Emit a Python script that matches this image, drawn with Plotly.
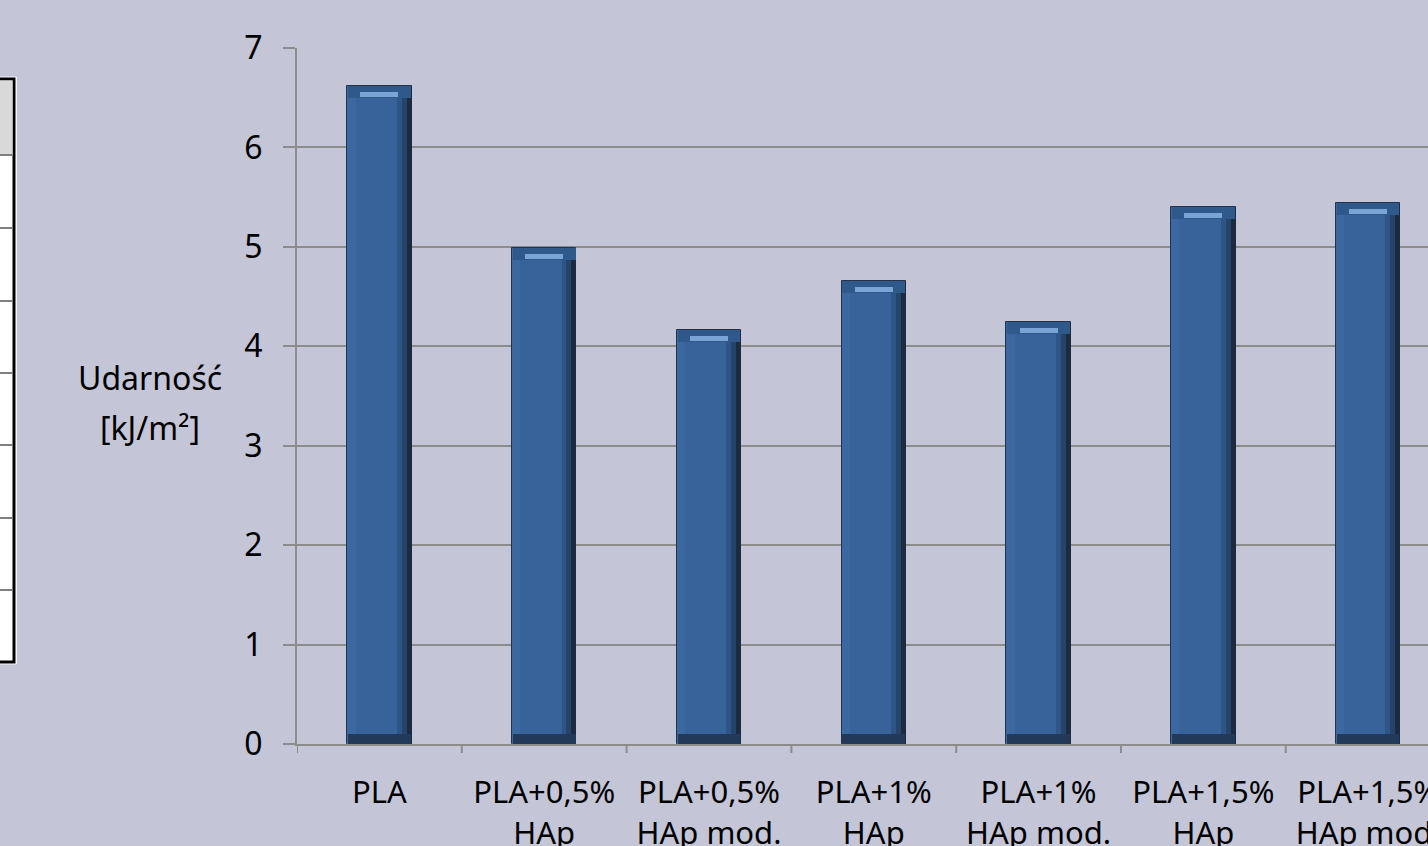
import plotly.graph_objects as go

categories = ["PLA<br> ", "PLA+0,5%<br>HAp", "PLA+0,5%<br>HAp mod.", "PLA+1%<br>HAp",
              "PLA+1%<br>HAp mod.", "PLA+1,5%<br>HAp", "PLA+1,5%<br>HAp mod."]
values = [6.62, 4.99, 4.16, 4.66, 4.24, 5.40, 5.44]
y_ticks = [0, 1, 2, 3, 4, 5, 6, 7]
y_title_lines = ["Udarność", "[kJ/m²]"]

W, H = 1428, 846
BG = "#C4C6D8"
xs = list(range(len(categories)))

fig = go.Figure()
BW = 0.39
# main bar body
fig.add_trace(go.Bar(x=xs, y=values, width=BW, marker=dict(color="#37639A", line=dict(color="#24324a", width=1))))
# left lighter strip
fig.add_trace(go.Bar(x=xs, y=values, width=0.05, offset=-BW / 2, marker=dict(color="#3C68A0", line=dict(width=0))))
# right darker gradient strips
fig.add_trace(go.Bar(x=xs, y=values, width=0.09, offset=BW / 2 - 0.09, marker=dict(color="#2E5585", line=dict(width=0))))
fig.add_trace(go.Bar(x=xs, y=values, width=0.06, offset=BW / 2 - 0.06, marker=dict(color="#25446A", line=dict(width=0))))
fig.add_trace(go.Bar(x=xs, y=values, width=0.03, offset=BW / 2 - 0.03, marker=dict(color="#1C2B3F", line=dict(width=0))))
# top bevel
fig.add_trace(go.Bar(x=xs, y=[0.12] * len(values), base=[v - 0.12 for v in values], width=BW - 0.01,
                     marker=dict(color="#30598B", line=dict(width=0))))
fig.add_trace(go.Bar(x=xs, y=[0.05] * len(values), base=[v - 0.11 for v in values], width=BW - 0.16,
                     marker=dict(color="#7AA4D6", line=dict(width=0))))
# bottom bevel
fig.add_trace(go.Bar(x=xs, y=[0.1] * len(values), base=[0] * len(values), width=BW - 0.01,
                     marker=dict(color="#23395A", line=dict(width=0))))

x0 = 297 / W
fig.update_layout(
    width=W, height=H, barmode="overlay", showlegend=False,
    paper_bgcolor=BG, plot_bgcolor=BG,
    margin=dict(l=0, r=0, t=0, b=0, autoexpand=False),
    font=dict(family="Noto Sans", color="#000000"),
    xaxis=dict(domain=[x0, 1], range=[-0.5, 6.363], tickmode="array", tickvals=xs, ticktext=categories,
               showgrid=False, showline=True, linecolor="#8C8C8C", linewidth=2, automargin=False,
               ticklabeloverflow="allow", ticklabelstandoff=20,
               ticks="", tickfont=dict(size=31), zeroline=False),
    yaxis=dict(domain=[(H - 744) / H, (H - 48) / H], range=[0, 7], tickvals=y_ticks, automargin=False,
               showgrid=True, gridcolor="#8C8C8C", gridwidth=2, showline=True, linecolor="#8C8C8C",
               linewidth=2, ticks="outside", ticklen=12, tickcolor="#8C8C8C", tickwidth=2,
               tickfont=dict(size=32), ticklabelstandoff=14, zeroline=False),
    bargap=0,
)

# x category boundary tick marks
shapes = []
for i in range(len(categories) + 1):
    shapes.append(dict(type="line", xref="x", yref="paper", x0=i - 0.5, x1=i - 0.5,
                       y0=(H - 744) / H, y1=(H - 753) / H, line=dict(color="#8C8C8C", width=2)))

# table fragment on the left
def py(p):
    return 1 - p / H

shapes.append(dict(type="rect", xref="paper", yref="paper", x0=-0.01, x1=16.5 / W, y0=py(664), y1=py(77),
                   line=dict(color="#F4F4F8", width=1), fillcolor="#FFFFFF", layer="above"))
shapes.append(dict(type="rect", xref="paper", yref="paper", x0=-0.01, x1=14 / W, y0=py(662), y1=py(79),
                   line=dict(color="#000000", width=3), fillcolor="#FFFFFF", layer="above"))
shapes.append(dict(type="rect", xref="paper", yref="paper", x0=-0.01, x1=12.5 / W, y0=py(155), y1=py(80.5),
                   line=dict(width=0), fillcolor="#D9D9D9", layer="above"))
for yy in [155, 228, 301, 373, 445, 518, 590]:
    shapes.append(dict(type="line", xref="paper", yref="paper", x0=0, x1=12.5 / W, y0=py(yy), y1=py(yy),
                       line=dict(color="#7F7F7F", width=2), layer="above"))
fig.update_layout(shapes=shapes)

for txt, ypix in zip(y_title_lines, [377, 427]):
    fig.add_annotation(xref="paper", yref="paper", x=150 / W, y=py(ypix), xanchor="center", yanchor="middle",
                       showarrow=False, text=txt, font=dict(size=32, color="#000000"), align="center")

fig.write_html("out.html")
